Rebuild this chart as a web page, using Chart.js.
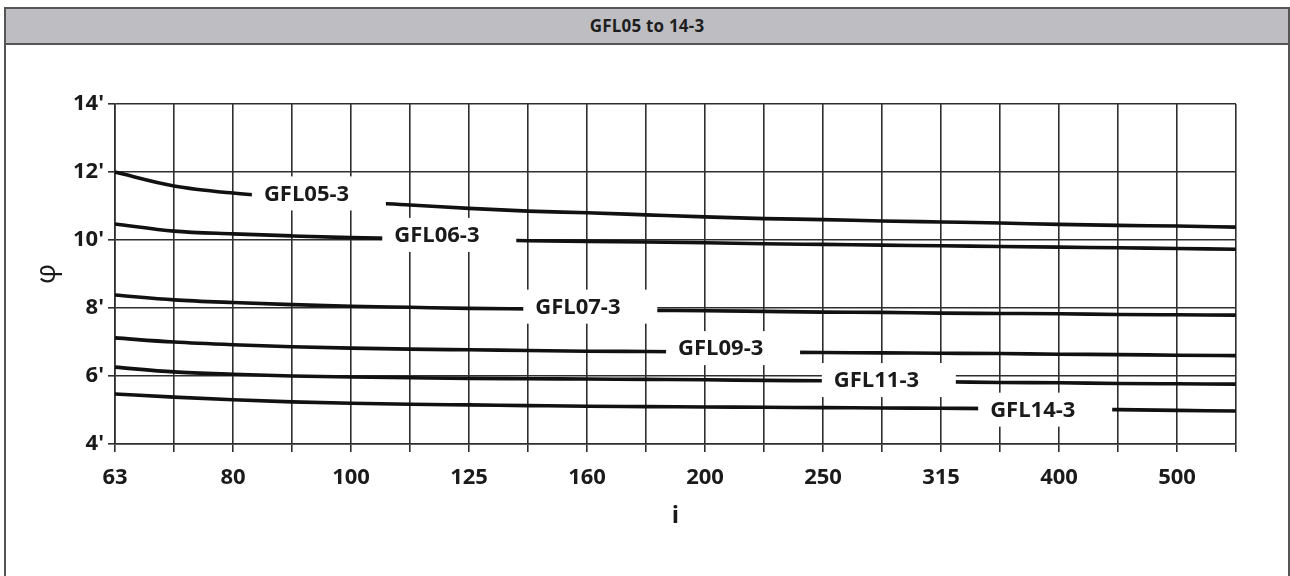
<!DOCTYPE html>
<html>
<head>
<meta charset="utf-8">
<script src="https://cdn.jsdelivr.net/npm/chart.js@4.4.1/dist/chart.umd.min.js"></script>
<style>
  html, body { margin: 0; padding: 0; background: #fff; width: 1290px; height: 576px; overflow: hidden; }
  #frame { position: absolute; left: 4px; top: 7px; width: 1286px; height: 569px; box-sizing: border-box;
           border: 2px solid #555; border-bottom: none; }
  #head { height: 34px; background: #bebec2; border-bottom: 2px solid #555; text-align: center;
          font: bold 17px "Open Sans", sans-serif; line-height: 34px; color: #1e1e1e; letter-spacing: 0.2px; }
  #wrap { position: absolute; left: 0; top: 44px; width: 1290px; height: 532px; }
</style>
</head>
<body>
<div id="frame"><div id="head">GFL05 to 14-3</div></div>
<div id="wrap"><canvas id="c"></canvas></div>
<script>
// ratio i, R20 steps (every other one is labelled)
const ratios = ['63','71','80','90','100','112','125','140','160','180','200','224','250','280','315','355','400','450','500','560'];

// torsional backlash phi (arc minutes) per size
const gfl05 = [12.0, 11.59, 11.38, 11.25, 11.12, 11.03, 10.93, 10.85, 10.8, 10.74, 10.68, 10.63, 10.6, 10.56, 10.53, 10.5, 10.46, 10.43, 10.41, 10.38];
const gfl06 = [10.47, 10.26, 10.18, 10.12, 10.07, 10.04, 10.01, 9.98, 9.96, 9.94, 9.92, 9.89, 9.87, 9.85, 9.83, 9.81, 9.79, 9.77, 9.75, 9.73];
const gfl07 = [8.38, 8.24, 8.16, 8.1, 8.05, 8.02, 7.99, 7.97, 7.95, 7.93, 7.92, 7.9, 7.88, 7.87, 7.85, 7.84, 7.83, 7.81, 7.8, 7.79];
const gfl09 = [7.12, 7.0, 6.92, 6.86, 6.82, 6.79, 6.77, 6.75, 6.73, 6.72, 6.71, 6.7, 6.69, 6.68, 6.67, 6.66, 6.64, 6.63, 6.61, 6.6];
const gfl11 = [6.26, 6.12, 6.05, 6.0, 5.97, 5.95, 5.93, 5.92, 5.91, 5.9, 5.89, 5.87, 5.86, 5.84, 5.83, 5.81, 5.8, 5.78, 5.77, 5.76];
const gfl14 = [5.47, 5.38, 5.3, 5.24, 5.2, 5.17, 5.15, 5.13, 5.11, 5.1, 5.09, 5.08, 5.07, 5.06, 5.05, 5.04, 5.02, 5.01, 4.99, 4.97];

// inline curve names, where they sit (ratio index, phi)
const curveNames = ['GFL05-3', 'GFL06-3', 'GFL07-3', 'GFL09-3', 'GFL11-3', 'GFL14-3'];
const nameAt = [2.32, 4.53, 6.92, 9.34, 11.98, 14.63];
const nameVal = [11.37, 10.15, 8.04, 6.82, 5.88, 5.01];

const ink = '#1a1a1a';
const gridCol = '#2e2e2e';
const fam = '"Open Sans", "DejaVu Sans", sans-serif';

const series = [gfl05, gfl06, gfl07, gfl09, gfl11, gfl14];

// white boxes with the curve names, cut through lines and grid
const curveLabels = {
  id: 'curveLabels',
  afterDatasetsDraw(chart) {
    const { ctx, scales: { x, y } } = chart;
    ctx.save();
    ctx.font = 'bold 22px ' + fam;
    ctx.textBaseline = 'middle';
    curveNames.forEach((n, k) => {
      const left = x.getPixelForValue(nameAt[k]);
      const cy = y.getPixelForValue(nameVal[k]);
      ctx.fillStyle = '#fff';
      ctx.fillRect(left, cy - 17, 134, 34);
      ctx.fillStyle = ink;
      ctx.fillText(n, left + 12, cy + 1);
    });
    ctx.restore();
  }
};

new Chart(document.getElementById('c'), {
  type: 'line',
  data: {
    labels: ratios,
    datasets: series.map((s, k) => ({
      label: curveNames[k],
      data: s,
      borderColor: '#111',
      borderWidth: 3.6,
      pointRadius: 0,
      fill: false,
      cubicInterpolationMode: 'monotone'
    }))
  },
  options: {
    responsive: true,
    maintainAspectRatio: false,
    animation: false,
    layout: { padding: { left: 0, right: 54, top: 60, bottom: 0 } },
    plugins: { legend: { display: false }, tooltip: { enabled: false } },
    scales: {
      x: {
        type: 'category',
        offset: false,
        grid: { color: gridCol, lineWidth: 1.6, tickLength: 8, tickColor: gridCol },
        border: { color: gridCol, width: 1.6 },
        ticks: {
          autoSkip: false, maxRotation: 0, padding: 13, color: ink,
          font: { family: fam, size: 22, weight: 'bold' },
          callback: (v, i) => (i % 2 ? '' : ratios[i])
        },
        title: { display: true, text: 'i', color: ink, font: { family: fam, size: 24, weight: 'bold' }, padding: { top: 0, bottom: 45 } },
        afterFit: s => { s.height = 132; }
      },
      y: {
        min: 4, max: 14,
        grid: { color: gridCol, lineWidth: 1.6, tickLength: 7, tickColor: gridCol },
        border: { color: gridCol, width: 1.6 },
        ticks: {
          stepSize: 2, padding: 4, color: ink,
          font: { family: fam, size: 22, weight: 'bold' },
          callback: v => v + "'"
        },
        title: { display: true, text: 'φ', color: ink, font: { family: fam, size: 28 }, padding: { top: 30, bottom: 0 } },
        afterFit: s => { s.width = 115; }
      }
    }
  },
  plugins: [curveLabels]
});
</script>
</body>
</html>
